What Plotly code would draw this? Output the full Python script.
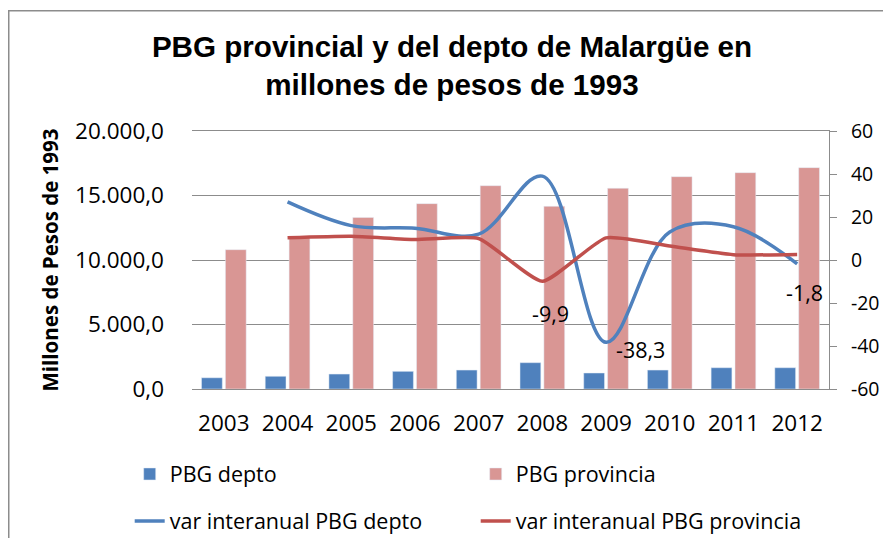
import plotly.graph_objects as go

years = ["2003", "2004", "2005", "2006", "2007", "2008", "2009", "2010", "2011", "2012"]
pbg_depto = [870, 985, 1160, 1370, 1470, 2040, 1240, 1470, 1650, 1650]
pbg_provincia = [10800, 11800, 13300, 14370, 15760, 14160, 15560, 16460, 16770, 17160]
var_depto = [None, 27.0, 16.0, 14.8, 12.0, 39.0, -38.3, 13.0, 15.5, -1.8]
var_provincia = [None, 10.3, 11.0, 9.5, 10.0, -9.9, 10.3, 6.5, 2.5, 2.6]
y2_ticks = [-60, -40, -20, 0, 20, 40, 60]
y2_labels = ["-60", "-40", "-20", "0", "20", "40", "60"]

BLUE = "#4F81BD"
PINK = "#D99694"
RED = "#C0504D"
GRID = "#8c8c8c"
FONT = "Open Sans"
W, H = 875, 530

fig = go.Figure()
fig.add_trace(go.Bar(x=years, y=pbg_depto, name="PBG depto", marker_color=BLUE, legend="legend"))
fig.add_trace(go.Bar(x=years, y=pbg_provincia, name="PBG provincia", marker_color=PINK, legend="legend2"))
fig.add_trace(go.Scatter(x=years, y=var_depto, name="var interanual PBG depto", yaxis="y2",
                         mode="lines", line=dict(color=BLUE, width=3.5, shape="spline", smoothing=1.0),
                         legend="legend3"))
fig.add_trace(go.Scatter(x=years, y=var_provincia, name="var interanual PBG provincia", yaxis="y2",
                         mode="lines", line=dict(color=RED, width=3.5, shape="spline", smoothing=0.5),
                         legend="legend4"))


def fmt(v):
    return ("%.1f" % v).replace(".", ",")


labels = [
    (5, var_provincia[5], 8, -32),
    (6, var_depto[6], 34, -7),
    (9, var_depto[9], 7, -29),
]
for i, y, dx, dy in labels:
    fig.add_annotation(x=i, y=y, xref="x", yref="y2", text=fmt(y), showarrow=False,
                       xshift=dx, yshift=dy, font=dict(family=FONT, size=21.5, color="#000"))


def leg(x, y):
    return dict(orientation="h", xref="container", yref="container", x=x / W, y=1 - y / H,
                xanchor="left", yanchor="middle", font=dict(family=FONT, size=21.5, color="#000"),
                bgcolor="rgba(0,0,0,0)", itemwidth=30)


fig.update_layout(
    width=W, height=H,
    paper_bgcolor="white", plot_bgcolor="white",
    margin=dict(l=184, r=W - 821, t=123, b=H - 381, autoexpand=False),
    separators=",.",
    barmode="group", bargap=0.25, bargroupgap=0.13,
    title=dict(text="<b>PBG provincial y del depto de Malargüe en<br>millones de pesos de 1993</b>",
               xref="container", yref="container",
               x=444 / W, xanchor="center", y=1 - 48.5 / H, yanchor="middle",
               font=dict(family="Liberation Sans", size=29.6, color="#000")),
    font=dict(family=FONT, size=20, color="#000"),
    xaxis=dict(type="category", range=[-0.5, 9.5], showgrid=False,
               showline=True, mirror=True, linecolor=GRID, linewidth=1, ticks="",
               ticklabelstandoff=14, automargin=False,
               tickfont=dict(family=FONT, size=22.5)),
    yaxis=dict(range=[0, 20000], dtick=5000, tickformat=",.1f", showgrid=True,
               gridcolor=GRID, gridwidth=1, zeroline=False, showline=False,
               ticks="", ticklabelstandoff=27, automargin=False,
               title=dict(text="<b>Millones de Pesos de 1993</b>",
                          font=dict(family=FONT, size=20.5), standoff=10),
               tickfont=dict(family=FONT, size=22.5)),
    yaxis2=dict(overlaying="y", side="right", range=[-60, 60], tickvals=y2_ticks, ticktext=y2_labels,
                showgrid=False, zeroline=False, showline=True, linecolor=GRID, linewidth=1,
                ticks="outside", ticklen=7, tickcolor=GRID, ticklabelstandoff=10, automargin=False,
                tickfont=dict(family=FONT, size=19.5)),
    legend=leg(121.7, 466),
    legend2=leg(467.7, 466),
    legend3=leg(121.7, 513),
    legend4=leg(467.7, 513),
    showlegend=True,
)

# Chart frame (only left and top edges fall inside the picture)
fig.add_shape(type="rect", xref="paper", yref="paper",
              x0=(0.75 - 184) / 637, x1=1.2, y0=-0.7, y1=1 + (123 - 2.7) / 258,
              line=dict(color=GRID, width=1.5), fillcolor="rgba(0,0,0,0)", layer="below")

fig.write_html("out.html")
